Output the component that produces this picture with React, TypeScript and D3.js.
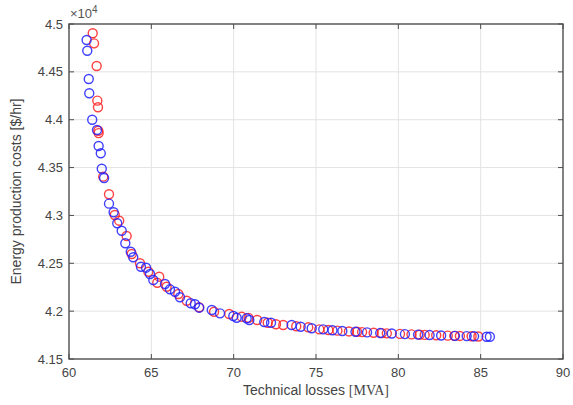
import React from "react";
import * as d3 from "d3";

const W = 573;
const H = 405;

const xTicks = [60, 65, 70, 75, 80, 85, 90];
const yTicks = [41500, 42000, 42500, 43000, 43500, 44000, 44500, 45000];
const yTickLabels = ["4.15", "4.2", "4.25", "4.3", "4.35", "4.4", "4.45", "4.5"];

const redX = [61.44, 61.52, 61.68, 61.72, 61.76, 61.78, 61.80, 62.08, 62.43, 62.78, 63.05, 63.50, 63.81, 64.31, 64.82, 65.36, 65.48, 65.93, 66.64, 67.15, 67.9, 68.81, 69.73, 70.49, 70.9, 71.43, 72.07, 72.57, 73.01, 73.8, 74.53, 75.20, 75.75, 76.3, 77.0, 77.5, 77.8, 78.5, 79.0, 79.3, 80.1, 80.8, 81.3, 81.6, 82.3, 83.0, 83.4, 83.74, 84.45, 84.86];
const redY = [44903, 44798, 44561, 44199, 44130, 43885, 43860, 43405, 43221, 43004, 42945, 42785, 42597, 42500, 42412, 42297, 42360, 42255, 42179, 42109, 42040, 41994, 41970, 41942, 41930, 41907, 41879, 41863, 41855, 41842, 41831, 41810, 41803, 41796, 41788, 41784, 41781, 41774, 41770, 41768, 41762, 41757, 41754, 41752, 41748, 41744, 41742, 41741, 41738, 41735];

const blueX = [61.07, 61.11, 61.20, 61.23, 61.41, 61.70, 61.80, 61.93, 61.99, 62.13, 62.43, 62.71, 62.93, 63.20, 63.42, 63.75, 63.90, 64.37, 64.68, 64.92, 65.12, 65.83, 66.13, 66.44, 66.74, 67.39, 67.65, 67.91, 68.67, 69.17, 69.98, 70.18, 70.79, 70.95, 71.86, 72.27, 73.52, 74.07, 74.74, 75.44, 76.0, 76.6, 77.4, 78.1, 78.9, 79.6, 80.4, 81.2, 81.9, 82.6, 83.44, 84.15, 84.6, 85.36, 85.56];
const blueY = [44833, 44721, 44425, 44276, 44000, 43893, 43725, 43649, 43488, 43391, 43123, 43033, 42918, 42840, 42709, 42621, 42563, 42464, 42454, 42388, 42325, 42284, 42228, 42203, 42145, 42082, 42072, 42036, 42012, 41977, 41949, 41931, 41925, 41907, 41887, 41879, 41855, 41837, 41821, 41810, 41800, 41793, 41785, 41778, 41771, 41766, 41760, 41755, 41750, 41746, 41742, 41739, 41737, 41733, 41732];

const xLabel = "Technical losses ";
const xLabelUnit = "[MVA]";
const yLabel = "Energy production costs [$/hr]";

export default function App() {
  const left = 69, right = 563, top = 24, bottom = 359;
  const x = d3.scaleLinear().domain([60, 90]).range([left, right]);
  const y = d3.scaleLinear().domain([41500, 45000]).range([bottom, top]);
  const font = "Helvetica, Arial, 'Liberation Sans', sans-serif";
  const axisColor = "#4d4d4d";
  const tickLen = 5;
  const r = 4.5;

  return (
    <svg width={W} height={H} style={{ position: "absolute", left: 0, top: 0, background: "#fff" }} fontFamily={font}>
      <rect x={0} y={0} width={W} height={H} fill="#fff" />
      {xTicks.slice(1, -1).map((t) => (
        <line key={"gx" + t} x1={x(t)} x2={x(t)} y1={top} y2={bottom} stroke="#e3e3e3" strokeWidth={1} />
      ))}
      {yTicks.slice(1, -1).map((t) => (
        <line key={"gy" + t} x1={left} x2={right} y1={y(t)} y2={y(t)} stroke="#e3e3e3" strokeWidth={1} />
      ))}
      {xTicks.map((t) => (
        <g key={"tx" + t}>
          <line x1={x(t)} x2={x(t)} y1={bottom} y2={bottom - tickLen} stroke={axisColor} />
          <line x1={x(t)} x2={x(t)} y1={top} y2={top + tickLen} stroke={axisColor} />
          <text x={x(t)} y={bottom + 18} textAnchor="middle" fontSize={13} fill="#444">{t}</text>
        </g>
      ))}
      {yTicks.map((t, i) => (
        <g key={"ty" + t}>
          <line x1={left} x2={left + tickLen} y1={y(t)} y2={y(t)} stroke={axisColor} />
          <line x1={right} x2={right - tickLen} y1={y(t)} y2={y(t)} stroke={axisColor} />
          <text x={left - 6} y={y(t) + 4.5} textAnchor="end" fontSize={13} fill="#444">{yTickLabels[i]}</text>
        </g>
      ))}
      <rect x={left} y={top} width={right - left} height={bottom - top} fill="none" stroke={axisColor} strokeWidth={1.4} />
      <text x={left + 1} y={top - 6} fontSize={13} fill="#555">
        ×10<tspan dy={-5} fontSize={10}>4</tspan>
      </text>
      {redX.map((v, i) => (
        <circle key={"r" + i} cx={x(v)} cy={y(redY[i])} r={r} fill="none" stroke="#ff2020" strokeWidth={1.4} opacity={0.85} />
      ))}
      {blueX.map((v, i) => (
        <circle key={"b" + i} cx={x(v)} cy={y(blueY[i])} r={r} fill="none" stroke="#2020ff" strokeWidth={1.4} opacity={0.85} />
      ))}
      <text x={(left + right) / 2} y={395} textAnchor="middle" fontSize={14} fill="#444">
        {xLabel}
        <tspan fontFamily="'Liberation Serif', 'Times New Roman', serif">{xLabelUnit}</tspan>
      </text>
      <text transform={`translate(21, ${(top + bottom) / 2}) rotate(-90)`} textAnchor="middle" fontSize={14} fill="#444">
        {yLabel}
      </text>
    </svg>
  );
}
